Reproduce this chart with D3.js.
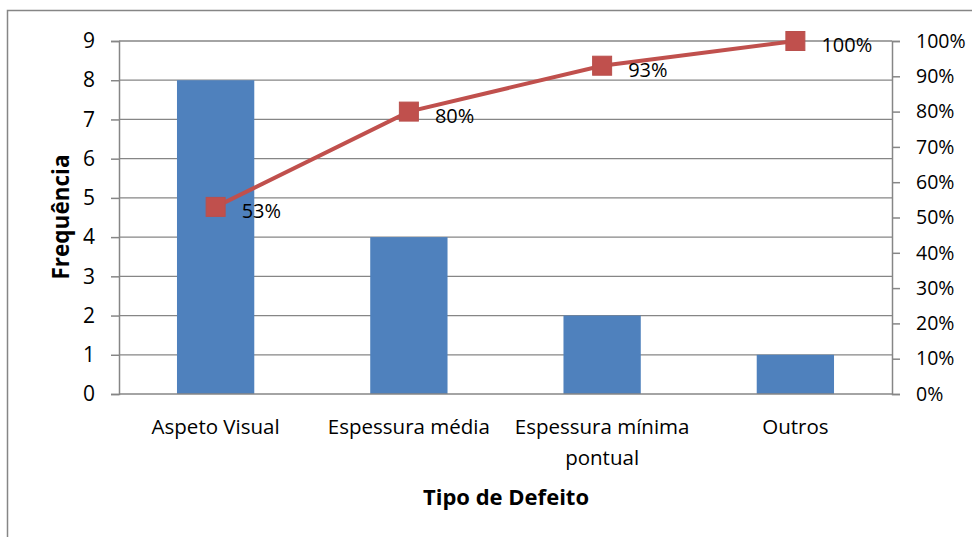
<!DOCTYPE html>
<html>
<head>
<meta charset="utf-8">
<script src="https://cdn.jsdelivr.net/npm/d3@7"></script>
<style>
  html, body { margin: 0; padding: 0; background: #fff; }
  svg { display: block; }
  text { font-family: "Open Sans", "Liberation Sans", sans-serif; fill: #000; }
</style>
</head>
<body>
<svg id="chart" width="972" height="537"></svg>
<script>
// Pareto data: defect type counts and cumulative share
const categories = ["Aspeto Visual", "Espessura média", "Espessura mínima\npontual", "Outros"];
const frequencies = [8, 4, 2, 1];
const cumulative = [0.53, 0.80, 0.93, 1.00];
const cumulativeLabels = ["53%", "80%", "93%", "100%"];
const leftTicks = [0, 1, 2, 3, 4, 5, 6, 7, 8, 9];
const rightTicks = [0, 0.1, 0.2, 0.3, 0.4, 0.5, 0.6, 0.7, 0.8, 0.9, 1.0];

const svg = d3.select("#chart");
const W = 972, H = 537;
const plot = { left: 119, right: 892, top: 41, bottom: 394 };

// outer chart frame
svg.append("rect")
  .attr("x", 7.5).attr("y", 10.5)
  .attr("width", W + 10).attr("height", H + 10)
  .attr("fill", "#fff").attr("stroke", "#868686").attr("stroke-width", 1.5);

const x = d3.scaleBand().domain(categories)
  .range([plot.left, plot.right]).paddingInner(0.6).paddingOuter(0.3);
const y = d3.scaleLinear().domain([0, 9]).range([plot.bottom, plot.top]);
const y2 = d3.scaleLinear().domain([0, 1]).range([plot.bottom, plot.top]);

// horizontal gridlines
svg.append("g").selectAll("line").data(leftTicks.slice(1)).join("line")
  .attr("x1", plot.left).attr("x2", plot.right)
  .attr("y1", d => y(d)).attr("y2", d => y(d))
  .attr("stroke", "#868686").attr("stroke-width", 1.3);

// bars
svg.append("g").selectAll("rect").data(frequencies).join("rect")
  .attr("x", (d, i) => x(categories[i]))
  .attr("y", d => y(d))
  .attr("width", x.bandwidth())
  .attr("height", d => y(0) - y(d))
  .attr("fill", "#4F81BD");

// left axis
const gL = svg.append("g").attr("transform", `translate(${plot.left},0)`)
  .call(d3.axisLeft(y).tickValues(leftTicks).tickSize(8).tickPadding(16).tickFormat(d3.format("d")));
// right axis
const gR = svg.append("g").attr("transform", `translate(${plot.right},0)`)
  .call(d3.axisRight(y2).tickValues(rightTicks).tickSize(8).tickPadding(16).tickFormat(d3.format(".0%")));
[gL, gR].forEach(g => {
  g.select(".domain").attr("stroke", "#868686").attr("stroke-width", 1.5);
  g.selectAll(".tick line").attr("stroke", "#868686").attr("stroke-width", 1.5);
  g.selectAll(".tick text").attr("font-family", "Open Sans").attr("fill", "#000");
});
gL.selectAll(".tick text").attr("font-size", 21);
gR.selectAll(".tick text").attr("font-size", 19.5);

// category axis baseline
svg.append("line")
  .attr("x1", plot.left).attr("x2", plot.right)
  .attr("y1", plot.bottom).attr("y2", plot.bottom)
  .attr("stroke", "#868686").attr("stroke-width", 1.5);

// category labels (multi-line)
const cat = svg.append("g").selectAll("text").data(categories).join("text")
  .attr("text-anchor", "middle")
  .attr("font-size", 20.5)
  .attr("x", d => x(d) + x.bandwidth() / 2)
  .attr("y", 434);
cat.each(function(d) {
  const t = d3.select(this);
  d.split("\n").forEach((line, k) => {
    t.append("tspan").attr("x", t.attr("x")).attr("dy", k === 0 ? 0 : 31).text(line);
  });
});

// cumulative line with square markers
const cx = i => x(categories[i]) + x.bandwidth() / 2;
svg.append("path")
  .datum(cumulative)
  .attr("d", d3.line().x((d, i) => cx(i)).y(d => y2(d)))
  .attr("fill", "none").attr("stroke", "#C0504D").attr("stroke-width", 4);
svg.append("g").selectAll("rect").data(cumulative).join("rect")
  .attr("x", (d, i) => cx(i) - 9.5).attr("y", d => y2(d) - 9.5)
  .attr("width", 19).attr("height", 19)
  .attr("fill", "#C0504D").attr("stroke", "#B9504D").attr("stroke-width", 1);

// cumulative value labels
svg.append("g").selectAll("text").data(cumulative).join("text")
  .attr("x", (d, i) => cx(i) + 26)
  .attr("y", d => y2(d) + 11)
  .attr("font-size", 20)
  .text((d, i) => cumulativeLabels[i]);

// axis titles
svg.append("text")
  .attr("x", 506).attr("y", 505)
  .attr("text-anchor", "middle").attr("font-size", 22).attr("font-weight", "bold")
  .text("Tipo de Defeito");
svg.append("text")
  .attr("transform", "translate(69,217) rotate(-90)")
  .attr("text-anchor", "middle").attr("font-size", 22.5).attr("font-weight", "bold")
  .text("Frequência");
</script>
</body>
</html>
